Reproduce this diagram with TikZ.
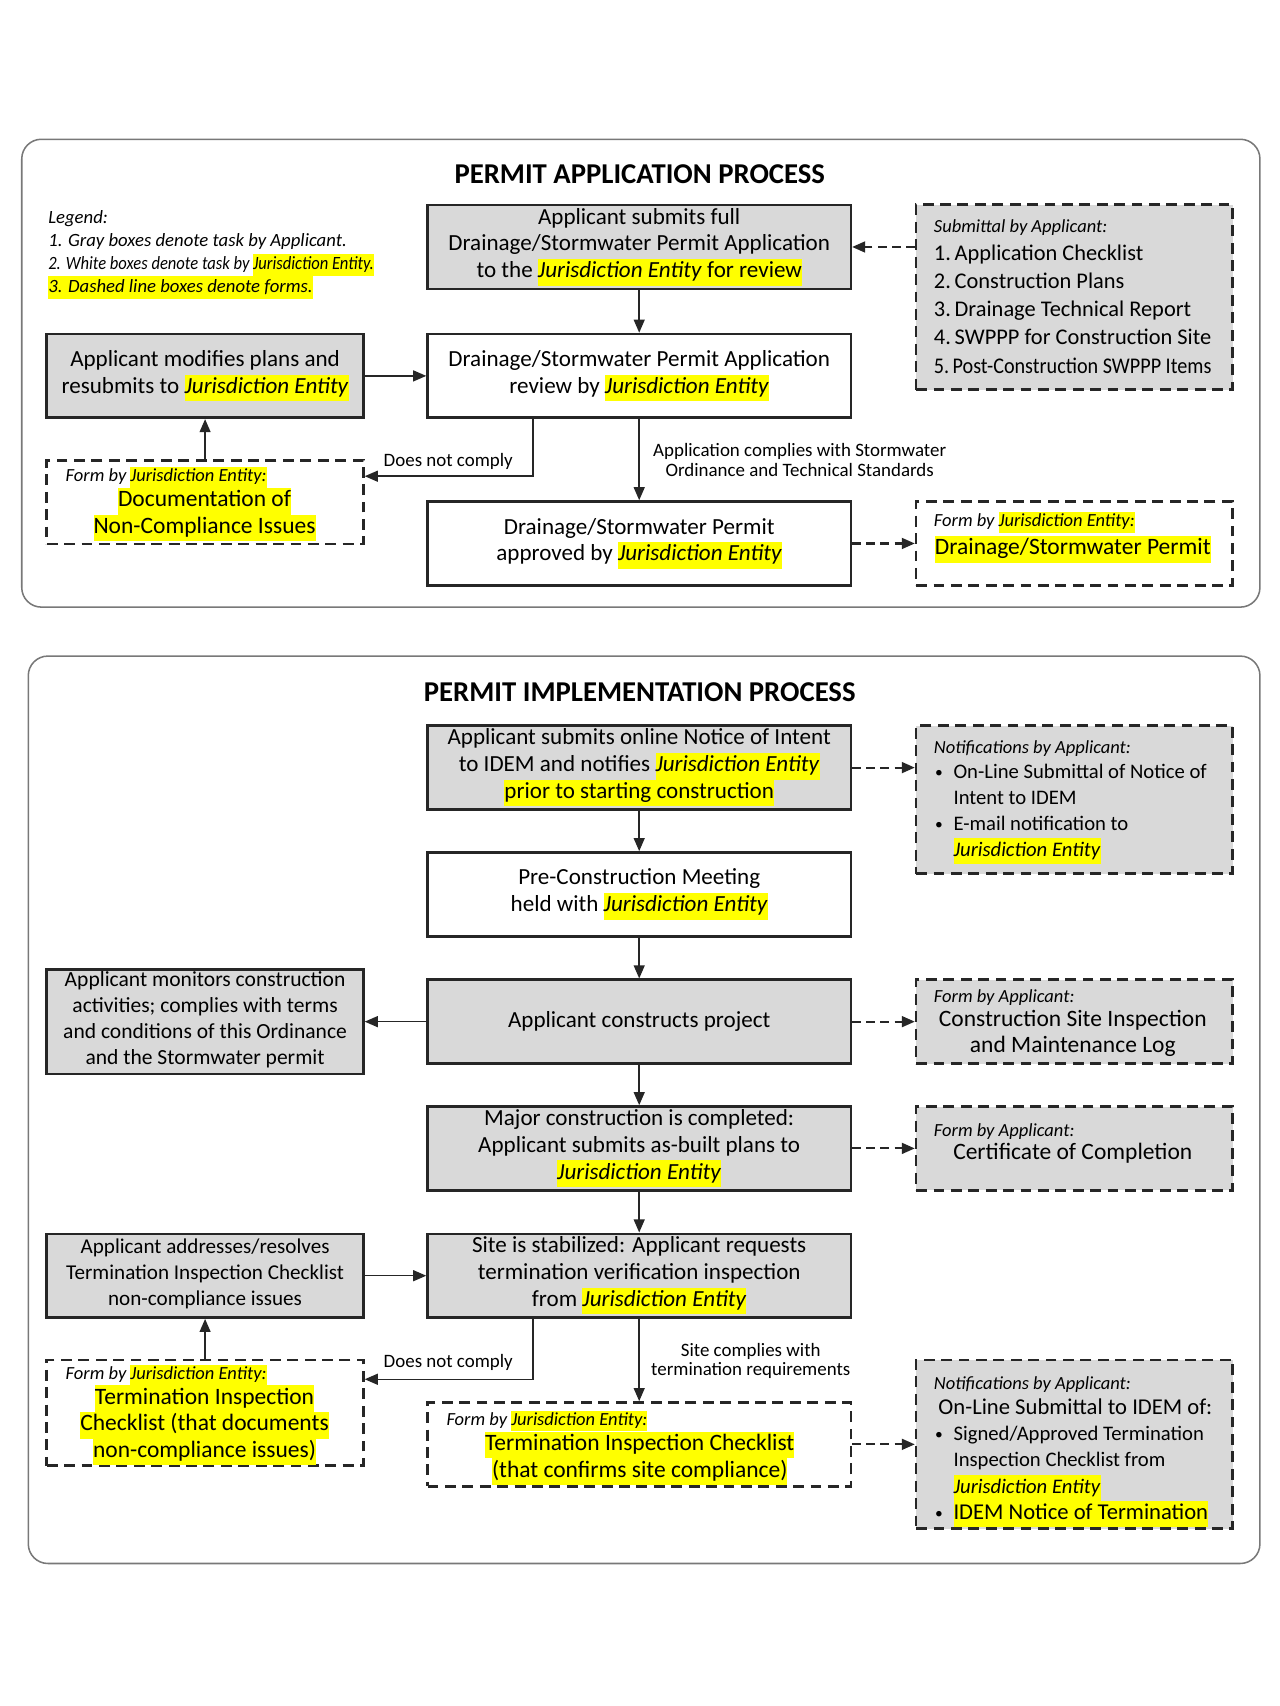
\documentclass[tikz,border=0pt]{standalone}
\usepackage{fontspec}
\usepackage{graphicx}
\setmainfont{Carlito}
\usetikzlibrary{arrows.meta,calc}
\definecolor{boxgray}{RGB}{217,217,217}
\definecolor{hlyel}{RGB}{255,255,0}
\definecolor{panelgray}{RGB}{120,120,120}
\newcommand\hl[1]{{\setlength{\fboxsep}{0pt}\colorbox{hlyel}{\strut #1}}}
\newcommand\JE{\textit{Jurisdiction Entity}}
\newcommand\bul{\makebox[8.5pt][l]{\raisebox{0.1ex}{\scalebox{0.75}{\textbullet}}}}
\newcommand\sq[1]{\scalebox{0.9}[1]{#1}}
\newcommand\fmain{\fontsize{10.6}{12.3}\selectfont}
\newcommand\fmon{\fontsize{9.9}{12}\selectfont}
\newcommand\faddr{\fontsize{9.7}{12}\selectfont}
\newcommand\fhdr{\fontsize{8.5}{9.5}\selectfont\itshape}
\newcommand\flab{\fontsize{8.7}{9}\selectfont}
\newcommand\fleg{\fontsize{8.6}{10.5}\selectfont\itshape}
\newcommand\fform{\fontsize{10.8}{12.2}\selectfont}
\newcommand\ftitle{\fontsize{13.2}{16}\selectfont\bfseries}
\newcommand\flist{\fontsize{10.3}{13}\selectfont}
\newcommand\fnotif{\fontsize{9.5}{12}\selectfont}
\newcommand\fbig{\fontsize{10.4}{12}\selectfont}
\begin{document}
\begin{tikzpicture}[x=0.5pt,y=-0.5pt,
  pbox/.style={draw=black!85, line width=1.2pt, align=center, inner sep=0pt, font=\fmain,
    execute at begin node={\strut}, execute at end node={\strut}},
  graybox/.style={pbox, fill=boxgray},
  whitebox/.style={pbox, fill=white},
  mainw/.style={minimum width=194.5pt, minimum height=38.5pt},
  sidew/.style={minimum width=145.5pt, minimum height=38.5pt},
  formbox/.style={draw=black!85, line width=1.2pt, dash pattern=on 5pt off 3pt, inner sep=0pt},
  grayform/.style={formbox, fill=boxgray},
  whiteform/.style={formbox, fill=white},
  panel/.style={draw=panelgray, line width=0.7pt, rounded corners=9pt},
  arr/.style={draw=black!85, line width=0.7pt, -{Triangle[length=6pt,width=5pt]}},
  darr/.style={draw=black!85, line width=1pt, dash pattern=on 4pt off 2.5pt, -{Triangle[length=6pt,width=5pt]}},
  hdr/.style={font=\fhdr, anchor=west, inner sep=0pt},
  txt/.style={inner sep=0pt, align=center, execute at begin node={\strut}, execute at end node={\strut}},
  lbl/.style={font=\flab, inner sep=0pt, align=center}]
\fill[white] (0,0) rectangle (1176,1568);
\useasboundingbox (0,0) rectangle (1176,1568);

% ---------------- top panel ----------------
\draw[panel] (20,128) rectangle (1158,558);
\node[font=\ftitle] (t1) at (588,160) {PERMIT APPLICATION PROCESS};
\node[font=\fleg, align=left, anchor=west, inner sep=0pt] (legend) at (44,234.5)
  {Legend:\\1. Gray boxes denote task by Applicant.\\\scalebox{0.885}[1]{2. White boxes denote task by \hl{Jurisdiction Entity.}}\\\hl{3. Dashed line boxes denote forms.}};

\node[graybox, mainw] (A1) at (587.5,227) {Applicant submits full\\Drainage/Stormwater Permit Application\\to the \hl{\JE{} for review}};
\node[grayform, minimum width=145.5pt, minimum height=85pt] (sub) at (987.5,273) {};
\node[hdr] (subh) at (858,209) {Submittal by Applicant:};
\node[font=\flist, align=left, anchor=west, inner sep=0pt] (subl) at (858,284)
  {1.\,Application Checklist\\2.\,Construction Plans\\3.\,Drainage Technical Report\\4.\,SWPPP for Construction Site\\\sq{5.\,Post-Construction SWPPP Items}};

\node[whitebox, mainw] (A2) at (587.5,345.5) {Drainage/Stormwater Permit Application\\review by \hl{\JE}};
\node[graybox, sidew] (modify) at (188.5,345.5) {Applicant modifies plans and\\resubmits to \hl{\JE}};

\node[whiteform, sidew] (doc) at (188.5,461.5) {};
\node[hdr] (doch) at (60,439) {Form by \hl{Jurisdiction Entity:}};
\node[txt, font=\fform] (doct) at (188,473) {\hl{Documentation of}\\\hl{Non-Compliance Issues}};

\node[whitebox, mainw] (A3) at (587.5,499.5) {Drainage/Stormwater Permit\\approved by \hl{\JE}};
\node[whiteform, sidew] (permit) at (987.5,499.5) {};
\node[hdr] (permh) at (858,480) {Form by \hl{Jurisdiction Entity:}};
\node[txt, font=\fform] (permt) at (986,505) {\hl{Drainage/Stormwater Permit}};

\node[lbl] (lab1) at (735,423) {Application complies with Stormwater\\Ordinance and Technical Standards};
\node[lbl] (lab2) at (412,424) {Does not comply};

\draw[darr] (sub.west |- A1.east) -- (A1.east);
\draw[arr] (A1) -- (A2);
\draw[arr] (A2) -- (A3);
\draw[arr] (modify) -- (A2);
\draw[arr] (doc) -- (modify);
\draw[arr] ($(A2.south west)!0.25!(A2.south east)$) |- ($(doc.north east)!0.2!(doc.south east)$);
\draw[darr] (A3) -- (permit);

% ---------------- bottom panel ----------------
\draw[panel] (26,603) rectangle (1158,1437);
\node[font=\ftitle] (t2) at (588,636) {PERMIT IMPLEMENTATION PROCESS};

\node[graybox, mainw] (B1) at (587.5,705.5) {Applicant submits online Notice of Intent\\to IDEM and notifies \hl{\JE}\\\hl{prior to starting construction}};
\node[grayform, minimum width=145.5pt, minimum height=68pt] (notif1) at (987.5,735) {};
\node[hdr] (n1h) at (858,688) {Notifications by Applicant:};
\node[font=\fnotif, anchor=west, inner sep=0pt] (n1t) at (859,746.5)
  {\begin{tabular}{@{}l@{}l@{}}\bul & On-Line Submittal of Notice of\\ & Intent to IDEM\\ \bul & E-mail notification to\\ & \hl{\JE}\end{tabular}};

\node[whitebox, mainw] (B2) at (587.5,822) {Pre-Construction Meeting\\held with \hl{\JE}};
\node[graybox, mainw] (B3) at (587.5,939) {Applicant constructs project};
\node[graybox, minimum width=145.5pt, minimum height=48pt, font=\fmon] (monitor) at (188.5,939)
  {Applicant monitors construction\\activities; complies with terms\\and conditions of this Ordinance\\and the Stormwater permit};
\node[grayform, sidew] (log) at (987.5,939) {};
\node[hdr] (logh) at (858,917) {Form by Applicant:};
\node[txt, font=\fform] (logt) at (986,951.5) {Construction Site Inspection\\and Maintenance Log};

\node[graybox, mainw] (B4) at (587.5,1055.5) {Major construction is completed:\\Applicant submits as-built plans to\\\hl{\JE}};
\node[grayform, sidew] (cert) at (987.5,1055.5) {};
\node[hdr] (certh) at (858,1040) {Form by Applicant:};
\node[txt, font=\fform] (certt) at (986,1061) {Certificate of Completion};

\node[graybox, mainw] (B5) at (587.5,1172.5) {Site is stabilized: Applicant requests\\termination verification inspection\\from \hl{\JE}};
\node[graybox, sidew, font=\faddr] (addr) at (188.5,1172.5) {Applicant addresses/resolves\\Termination Inspection Checklist\\non-compliance issues};

\node[whiteform, minimum width=145.5pt, minimum height=48.5pt] (tic) at (188.5,1298.5) {};
\node[hdr] (tich) at (60,1264) {Form by \hl{Jurisdiction Entity:}};
\node[txt, font=\fform] (tict) at (188,1310) {\hl{Termination Inspection}\\\hl{Checklist (that documents}\\\hl{non-compliance issues)}};

\node[whiteform, mainw] (tcc) at (587.5,1327.5) {};
\node[hdr] (tcch) at (410,1306) {Form by \hl{Jurisdiction Entity:}};
\node[txt, font=\fform] (tcct) at (588,1340.5) {\hl{Termination Inspection Checklist}\\\hl{(that confirms site compliance)}};

\node[grayform, minimum width=145.5pt, minimum height=77.5pt] (notif2) at (987.5,1327.5) {};
\node[hdr] (n2h) at (858,1273) {Notifications by Applicant:};
\node[font=\fnotif, anchor=west, inner sep=0pt] (n2t) at (859,1343.5)
  {\begin{tabular}{@{}l@{}l@{}}\multicolumn{2}{@{}l@{}}{\,{\fbig On-Line Submittal to IDEM of:}}\\ \bul & Signed/Approved Termination\\ & Inspection Checklist from\\ & \hl{\JE}\\ \bul & \hl{\fbig IDEM Notice of Termination}\end{tabular}};

\node[lbl] (lab3) at (690,1251) {Site complies with\\termination requirements};
\node[lbl] (lab4) at (412,1252) {Does not comply};

\draw[darr] (B1.east) -- (B1.east -| notif1.west);
\draw[arr] (B1) -- (B2);
\draw[arr] (B2) -- (B3);
\draw[arr] (B3) -- (B4);
\draw[arr] (B4) -- (B5);
\draw[arr] (B5) -- (tcc);
\draw[arr] (B3) -- (monitor);
\draw[darr] (B3) -- (log);
\draw[darr] (B4) -- (cert);
\draw[arr] (addr) -- (B5);
\draw[arr] (tic) -- (addr);
\draw[arr] ($(B5.south west)!0.25!(B5.south east)$) |- ($(tic.north east)!0.19!(tic.south east)$);
\draw[darr] (tcc.east) -- (tcc.east -| notif2.west);
\end{tikzpicture}
\end{document}
